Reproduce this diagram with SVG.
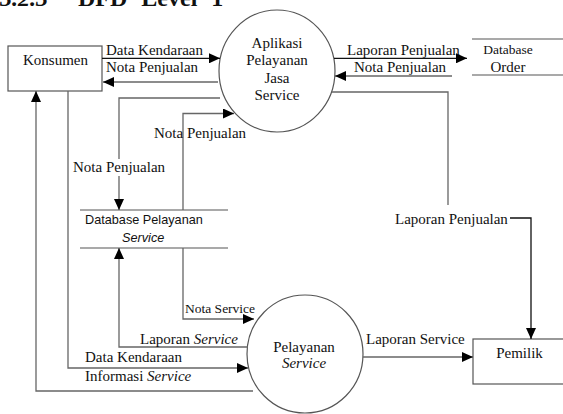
<svg xmlns="http://www.w3.org/2000/svg" width="563" height="414" viewBox="0 0 563 414">
<style>
text{font-family:"Liberation Serif","Times New Roman",serif;font-size:15px;fill:#111}
.sm{font-size:13.5px}
.sans{font-family:"Liberation Sans",Arial,sans-serif;font-size:12.7px}
.it{font-style:italic}
.mid{text-anchor:middle}
.title{font-size:24px;font-weight:bold}
.node{fill:#fff;stroke:#555;stroke-width:1.2}
.store{stroke:#555;stroke-width:1.2;fill:none}
.c{fill:none;stroke:#666;stroke-width:1.3}
.k{stroke:#111}
</style>
<defs>
<marker id="ah" markerUnits="userSpaceOnUse" markerWidth="12" markerHeight="10" refX="11" refY="5" orient="auto">
<path d="M0,0 L11,5 L0,10 Z" fill="#000"/>
</marker>
</defs>
<text class="title it" x="0" y="6">3.2.3</text>
<text class="title" x="78" y="6" word-spacing="8">DFD Level 1</text>

<g id="konsumen">
<rect class="node" x="8" y="46" width="94" height="45"/>
<text class="mid" x="55.5" y="65">Konsumen</text>
</g>
<g id="aplikasi">
<ellipse class="node" cx="277" cy="71" rx="58" ry="61"/>
<text class="mid" x="277" y="47.5">Aplikasi</text>
<text class="mid" x="277" y="65">Pelayanan</text>
<text class="mid" x="277" y="82.7">Jasa</text>
<text class="mid" x="277" y="100.3">Service</text>
</g>
<g id="db-order">
<line class="store" x1="472" y1="39" x2="563" y2="39"/>
<line class="store" x1="472" y1="75" x2="563" y2="75"/>
<text class="mid" x="508" y="54" style="font-size:13.5px">Database</text>
<text class="mid" x="508" y="72">Order</text>
</g>
<g id="db-pelayanan">
<line class="store" x1="80" y1="210" x2="228" y2="210"/>
<line class="store" x1="80" y1="248" x2="228" y2="248"/>
<text class="sans" x="85" y="224">Database Pelayanan</text>
<text class="sans it" x="122" y="242">Service</text>
</g>
<g id="pelayanan-service">
<ellipse class="node" cx="305" cy="354" rx="58" ry="59"/>
<text class="mid" x="304" y="352">Pelayanan</text>
<text class="mid it" x="304" y="368">Service</text>
</g>
<g id="pemilik">
<rect class="node" x="473" y="339" width="100" height="45"/>
<text class="mid" x="519.5" y="358">Pemilik</text>
</g>

<g id="connectors">
<path class="c k" d="M102,58.3 H220" marker-end="url(#ah)"/>
<path class="c" d="M218,82 H103" marker-end="url(#ah)"/>
<path class="c k" d="M334,58.3 H467" marker-end="url(#ah)"/>
<path class="c" d="M452,76 H335" marker-end="url(#ah)"/>
<path class="c" d="M332,92 H448 V205"/>
<path class="c k" d="M510,218 H531 V339" marker-end="url(#ah)"/>
<path class="c" d="M220,98 H119 V210" marker-end="url(#ah)"/>
<path class="c" d="M183,210 V113.5 H234" marker-end="url(#ah)"/>
<path class="c" d="M183,248 V319 H254" marker-end="url(#ah)"/>
<path class="c" d="M248,347 H119 V248" marker-end="url(#ah)"/>
<path class="c" d="M68,91 V368 H248" marker-end="url(#ah)"/>
<path class="c" d="M253,391 H36 V91" marker-end="url(#ah)"/>
<path class="c" d="M363,357 H473" marker-end="url(#ah)"/>
</g>

<g id="labels">
<text x="106" y="55">Data Kendaraan</text>
<text x="106" y="72">Nota Penjualan</text>
<text x="347" y="55">Laporan Penjualan</text>
<text x="354" y="72">Nota Penjualan</text>
<rect x="72" y="159" width="94" height="17" fill="#fff"/>
<text x="73" y="172">Nota Penjualan</text>
<text x="154" y="138">Nota Penjualan</text>
<text x="395" y="224">Laporan Penjualan</text>
<text class="sm" x="185" y="313">Nota Service</text>
<text x="140" y="344">Laporan <tspan class="it">Service</tspan></text>
<text x="85" y="362">Data Kendaraan</text>
<text x="85" y="380.7">Informasi <tspan class="it">Service</tspan></text>
<text x="366" y="343.5">Laporan Service</text>
</g>
</svg>
